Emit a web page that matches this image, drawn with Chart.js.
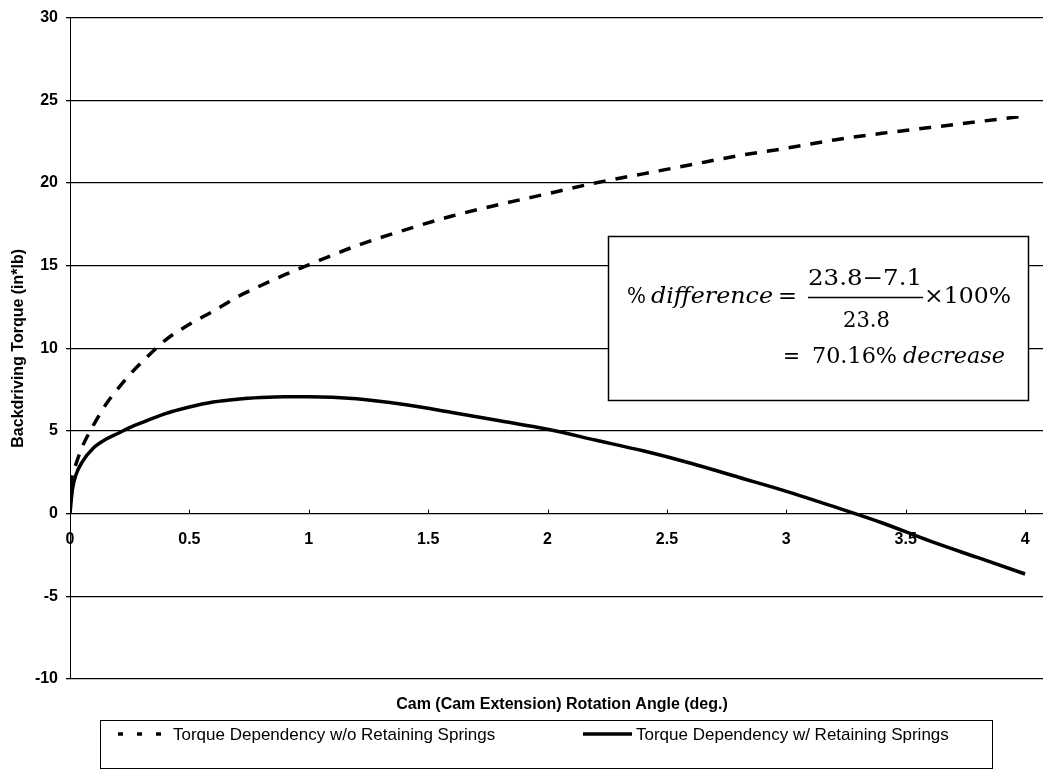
<!DOCTYPE html>
<html><head><meta charset="utf-8">
<script src="https://cdn.jsdelivr.net/npm/chart.js@4.4.1/dist/chart.umd.min.js"></script>
<style>html,body{margin:0;padding:0;background:#fff;} canvas{display:block;}</style>
</head><body>
<canvas id="c" width="1043" height="774"></canvas>
<script>
// ---- data ----
const angles = [0, 0.01, 0.025, 0.05, 0.1, 0.15, 0.2, 0.25, 0.3, 0.4, 0.5, 0.6, 0.7, 0.8, 0.9, 1.0, 1.2, 1.4, 1.6, 1.8, 2.0, 2.2, 2.4, 2.6, 2.8, 3.0, 3.2, 3.4, 3.6, 3.8, 4.0];
const torqueNoSprings = [1.6, 2.3, 3.0, 4.0, 5.4, 6.6, 7.55, 8.4, 9.15, 10.5, 11.45, 12.25, 13.1, 13.8, 14.45, 15.05, 16.2, 17.15, 18.0, 18.7, 19.35, 20.0, 20.55, 21.1, 21.65, 22.1, 22.6, 23.0, 23.35, 23.7, 24.05];
const torqueWithSprings = [0, 1.45, 2.35, 3.1, 4.0, 4.5, 4.85, 5.2, 5.5, 6.05, 6.45, 6.75, 6.92, 7.02, 7.07, 7.07, 6.95, 6.6, 6.12, 5.62, 5.1, 4.45, 3.8, 3.05, 2.2, 1.35, 0.42, -0.55, -1.65, -2.65, -3.65];
const xTickValues = [0, 0.5, 1, 1.5, 2, 2.5, 3, 3.5, 4];
const yTickValues = [-10, -5, 0, 5, 10, 15, 20, 25, 30];
const seriesLabels = ['Torque Dependency w/o Retaining Springs', 'Torque Dependency w/ Retaining Springs'];
const xTitle = 'Cam (Cam Extension) Rotation Angle (deg.)';
const yTitle = 'Backdriving Torque (in*lb)';

Chart.defaults.font.family = "'Liberation Sans', Arial, sans-serif";
Chart.defaults.color = '#000';

function fitText(ctx, text, x, y, w, font) {
  ctx.save();
  ctx.font = font;
  const m = ctx.measureText(text).width;
  ctx.translate(x, y);
  ctx.scale(w / m, 1);
  ctx.textAlign = 'left';
  ctx.textBaseline = 'alphabetic';
  ctx.fillText(text, 0, 0);
  ctx.restore();
}

const decor = {
  id: 'decor',
  beforeDraw(chart) {
    const ctx = chart.ctx;
    ctx.save();
    ctx.fillStyle = '#fff';
    ctx.fillRect(0, 0, chart.width, chart.height);
    ctx.restore();
  },
  afterDraw(chart) {
    const ctx = chart.ctx;
    const xs = chart.scales.x;
    ctx.save();
    ctx.fillStyle = '#000';
    ctx.strokeStyle = '#000';
    // upward x tick marks
    const y0 = chart.scales.y.getPixelForValue(0);
    ctx.lineWidth = 1;
    xs.ticks.forEach(t => {
      const px = Math.round(xs.getPixelForValue(t.value)) + 0.5;
      ctx.beginPath(); ctx.moveTo(px, y0); ctx.lineTo(px, y0 - 4); ctx.stroke();
    });
    // annotation box
    ctx.fillStyle = '#fff';
    ctx.fillRect(608, 236, 420, 164);
    ctx.lineWidth = 1.5;
    ctx.strokeRect(608.5, 236.5, 420, 164);
    ctx.fillStyle = '#000';
    const serif = "22px 'DejaVu Serif', 'Liberation Serif', serif";
    const serifI = "italic 22px 'DejaVu Serif', 'Liberation Serif', serif";
    fitText(ctx, '%', 627, 303, 19, serif);
    fitText(ctx, 'difference', 651, 303, 122, serifI);
    fitText(ctx, '=', 778, 303, 19, serif);
    fitText(ctx, '23.8\u22127.1', 808, 285, 114, serif);
    ctx.lineWidth = 1.5;
    ctx.beginPath(); ctx.moveTo(808, 297.5); ctx.lineTo(923, 297.5); ctx.stroke();
    fitText(ctx, '23.8', 843, 327, 47, serif);
    fitText(ctx, '\u00d7100%', 924, 303, 87, serif);
    fitText(ctx, '=', 783, 363, 17, serif);
    fitText(ctx, '70.16%', 812, 363, 85, serif);
    fitText(ctx, 'decrease', 903, 363, 102, serifI);
    // x axis title
    ctx.font = "bold 16px 'Liberation Sans', Arial, sans-serif";
    ctx.textAlign = 'center';
    ctx.textBaseline = 'alphabetic';
    ctx.fillText(xTitle, 562, 709);
    // legend box
    ctx.lineWidth = 1;
    ctx.strokeRect(100.5, 720.5, 892, 48);
    const ds = chart.data.datasets;
    ctx.lineWidth = 3.5;
    ctx.setLineDash([5, 14]);
    ctx.beginPath(); ctx.moveTo(118, 734); ctx.lineTo(165, 734); ctx.stroke();
    ctx.setLineDash([]);
    ctx.beginPath(); ctx.moveTo(583, 734); ctx.lineTo(632, 734); ctx.stroke();
    ctx.font = "17px 'Liberation Sans', Arial, sans-serif";
    ctx.textAlign = 'left';
    ctx.fillText(ds[0].label, 173, 740);
    ctx.fillText(ds[1].label, 636, 740);
    ctx.restore();
  }
};

new Chart(document.getElementById('c'), {
  type: 'scatter',
  data: {
    datasets: [
      {
        label: seriesLabels[0],
        data: angles.map((a, i) => ({ x: a, y: torqueNoSprings[i] })),
        showLine: true, pointRadius: 0, borderColor: '#000', borderWidth: 3.5,
        borderDash: [12, 10], cubicInterpolationMode: 'monotone', fill: false
      },
      {
        label: seriesLabels[1],
        data: angles.map((a, i) => ({ x: a, y: torqueWithSprings[i] })),
        showLine: true, pointRadius: 0, borderColor: '#000', borderWidth: 3.5,
        cubicInterpolationMode: 'monotone', fill: false
      }
    ]
  },
  options: {
    responsive: false,
    animation: false,
    layout: { padding: { top: 15, bottom: 95, left: 0, right: 0 } },
    plugins: { legend: { display: false }, tooltip: { enabled: false } },
    scales: {
      x: {
        type: 'linear', min: 0, max: 4.075, position: { y: 0 },
        afterBuildTicks: s => { s.ticks = xTickValues.map(v => ({ value: v })); },
        afterFit: s => { s.paddingLeft = 0; s.paddingRight = 0; },
        grid: { display: false, drawTicks: false },
        border: { display: true, color: '#000', width: 1 },
        ticks: { color: '#000', font: { size: 16, weight: 'bold' }, padding: 16, maxRotation: 0, autoSkip: false,
                 callback: v => String(v) }
      },
      y: {
        type: 'linear', min: -10, max: 30,
        afterBuildTicks: s => { s.ticks = yTickValues.map(v => ({ value: v })); },
        afterFit: s => { s.width = 70; },
        grid: { color: '#000', lineWidth: 1.3, tickLength: 4, drawTicks: true },
        border: { display: true, color: '#000', width: 1 },
        ticks: { color: '#000', font: { size: 16, weight: 'bold' }, padding: 8 },
        title: { display: true, text: yTitle, color: '#000', font: { size: 16, weight: 'bold' }, padding: { top: 9, bottom: 0 } }
      }
    }
  },
  plugins: [decor]
});
</script>
</body></html>
